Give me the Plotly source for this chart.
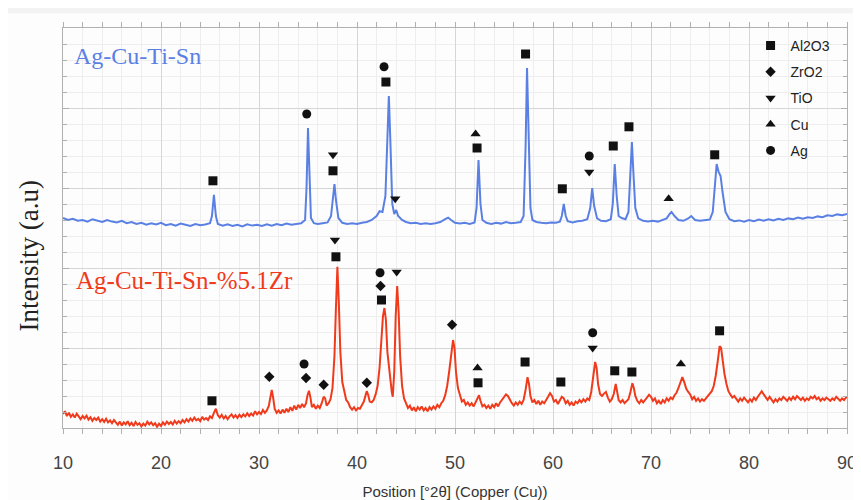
import plotly.graph_objects as go

# ---------------- data (2theta, intensity a.u.) ----------------
blue_pts = [
(10.0,52.5),(10.5,52),(11.0,52.3),(11.5,51.8),(12.0,52),(12.5,51.6),(13.0,52.2),(13.5,51.8),(14.0,51.5),(14.5,52),
(15.0,51.6),(15.5,51.4),(16.0,51.8),(16.5,51.2),(17.0,51.5),(17.5,51),(18.0,51.3),(18.5,50.8),(19.0,51.2),(19.5,50.9),
(20.0,51.3),(20.5,50.7),(21.0,51),(21.5,50.6),(22.0,51.1),(22.5,50.8),(23.0,50.5),(23.5,51),(24.0,50.7),(24.5,50.9),
(25.0,51.2),(25.2,53),(25.4,58.3),(25.6,53),(25.8,51),(26.3,50.6),(26.8,50.9),(27.3,50.5),(27.8,50.8),(28.3,50.4),
(28.8,50.9),(29.3,50.6),(29.8,50.8),(30.3,50.5),(30.8,50.9),(31.3,50.6),(31.8,51),(32.3,50.7),(32.8,51.1),(33.3,50.8),
(33.8,51),(34.3,51.2),(34.7,52),(34.85,60),(35.0,75),(35.15,60),(35.3,52.5),(35.6,51.2),(36.0,51),(36.5,51.2),
(37.0,51.4),(37.35,53),(37.55,58),(37.7,61),(37.85,57),(38.1,52.5),(38.5,51.3),(39.0,51),(39.5,51.2),(40.0,51),
(40.5,51.3),(41.0,51.5),(41.5,52),(42.0,53),(42.3,54.2),(42.6,54),(42.9,58),(43.1,70),(43.25,83),(43.4,72),
(43.6,56),(43.8,53.5),(44.0,54.5),(44.2,53),(44.6,52),(45.0,51.5),(45.5,51.2),(46.0,51.3),(46.5,51),(47.0,51.2),
(47.5,51),(48.0,51.2),(48.5,51.5),(49.0,52.2),(49.3,52.6),(49.6,52),(50.0,51.3),(50.5,51.1),(51.0,51.3),(51.5,51),
(52.0,51.4),(52.2,55),(52.4,67),(52.6,56),(52.8,52),(53.2,51.3),(53.7,51),(54.2,51.3),(54.7,51.1),(55.2,51.5),
(55.7,51.2),(56.2,51.3),(56.7,51.5),(57.0,53),(57.2,70),(57.35,90),(57.5,72),(57.7,55),(57.9,52),(58.3,51.5),
(58.8,51.3),(59.3,51.2),(59.8,51.4),(60.3,51.3),(60.7,51.6),(60.9,53),(61.1,56),(61.3,53),(61.5,51.7),(62.0,51.4),
(62.5,51.7),(63.0,51.8),(63.5,52.2),(63.8,55),(64.0,60),(64.2,55.5),(64.5,52.4),(64.9,51.8),(65.4,51.7),(65.9,52.2),
(66.1,56),(66.3,66),(66.5,58),(66.7,53),(67.0,52.5),(67.4,52.2),(67.7,54),(67.9,63),(68.05,71.5),(68.2,64),
(68.4,55),(68.7,52.4),(69.2,51.8),(69.7,51.6),(70.2,51.8),(70.7,51.6),(71.2,52),(71.6,52.4),(71.9,53.5),(72.1,54),
(72.4,53),(72.8,52),(73.3,51.8),(73.8,52.4),(74.1,53),(74.5,52),(75.0,51.8),(75.5,51.9),(76.0,52.1),(76.3,54),
(76.55,62),(76.7,66),(76.9,64),(77.1,63),(77.3,59),(77.6,54),(78.0,52.2),(78.5,51.7),(79.0,51.9),(79.5,51.6),
(80.0,52),(80.5,51.7),(81.0,52.1),(81.5,51.8),(82.0,52.2),(82.5,51.9),(83.0,52.3),(83.5,52),(84.0,52.4),(84.5,52.2),
(85.0,52.6),(85.5,52.3),(86.0,52.7),(86.5,52.5),(87.0,52.9),(87.5,52.7),(88.0,53.2),(88.5,53),(89.0,53.4),(89.5,53.2),
(90.0,53.5),
]

red_pts = [
(10.0,3.5),(10.2,4.2),(10.4,3),(10.6,3.8),(10.8,2.8),(11.0,3.4),(11.2,2.6),(11.4,3.6),(11.6,2.9),(11.8,2.2),
(12.0,3),(12.2,2.4),(12.4,3.1),(12.6,2.1),(12.8,2.7),(13.0,1.8),(13.2,2.5),(13.4,2),(13.6,2.6),(13.8,1.6),
(14.0,2.2),(14.2,1.5),(14.4,2.3),(14.6,1.4),(14.8,1.9),(15.0,1.2),(15.2,2),(15.4,1.3),(15.6,0.8),(15.8,1.6),
(16.0,0.6),(16.2,1.4),(16.4,0.9),(16.6,1.7),(16.8,0.7),(17.0,1.3),(17.2,0.5),(17.4,1.5),(17.6,0.8),(17.8,1.2),
(18.0,0.4),(18.2,1.1),(18.4,0.6),(18.6,1.6),(18.8,0.9),(19.0,1.4),(19.2,0.7),(19.4,1.2),(19.6,0.3),(19.8,1.1),
(20.0,0.5),(20.2,1.4),(20.4,0.8),(20.6,1.6),(20.8,1),(21.0,1.5),(21.2,0.9),(21.4,1.8),(21.6,1.1),(21.8,1.7),
(22.0,1.2),(22.2,2),(22.4,1.4),(22.6,2.2),(22.8,1.6),(23.0,2.4),(23.2,1.8),(23.4,2.6),(23.6,1.9),(23.8,2.3),
(24.0,1.7),(24.2,2.8),(24.4,2.1),(24.6,2.5),(24.8,2),(25.0,2.9),(25.2,2.5),(25.4,3.8),(25.6,4.8),(25.8,3.2),
(26.0,2.6),(26.2,3.3),(26.4,2.4),(26.6,3),(26.8,2.2),(27.0,2.9),(27.2,3.4),(27.4,2.6),(27.6,3.2),(27.8,2.5),
(28.0,3.3),(28.2,2.7),(28.4,3.4),(28.6,2.9),(28.8,3.7),(29.0,3),(29.2,3.6),(29.4,3.1),(29.6,4.2),(29.8,3.4),
(30.0,4),(30.2,3.5),(30.4,4.5),(30.6,3.8),(30.8,4.4),(31.0,5.5),(31.15,8),(31.3,9.5),(31.45,7.5),(31.6,4.8),
(31.8,3.8),(32.0,4.4),(32.2,3.6),(32.4,4.6),(32.6,3.8),(32.8,4.8),(33.0,4),(33.2,5.2),(33.4,4.3),(33.6,5.6),
(33.8,4.6),(34.0,5.8),(34.2,5),(34.4,6),(34.6,5.2),(34.8,6.2),(34.95,8.2),(35.1,9.3),(35.25,7.6),(35.4,5.2),
(35.6,5.8),(35.8,4.8),(36.0,5.6),(36.2,5),(36.4,6.2),(36.6,7.8),(36.75,7.4),(36.9,5.6),(37.1,6.2),(37.3,7.2),
(37.5,10),(37.7,18),(37.85,30),(38.0,40.3),(38.15,31),(38.3,19),(38.5,11.5),(38.7,8.8),(38.9,7),(39.1,6.4),
(39.3,5.2),(39.5,4.6),(39.7,5.2),(39.9,4.4),(40.1,5),(40.3,4.8),(40.5,5.8),(40.7,6.6),(40.9,8.4),(41.0,9.2),
(41.15,8.2),(41.3,6.6),(41.5,6.4),(41.7,7),(41.9,8.4),(42.1,10.5),(42.3,15),(42.5,22),(42.65,28),(42.8,30),
(42.95,27),(43.1,19),(43.25,15),(43.4,13),(43.55,9),(43.65,7.8),(43.8,14),(43.95,28),(44.1,35.5),(44.25,29),
(44.4,18),(44.6,10.5),(44.8,7.4),(45.0,6.2),(45.2,5),(45.4,5.6),(45.6,4.4),(45.8,5.2),(46.0,4.2),(46.2,5.2),
(46.4,4.6),(46.6,5.4),(46.8,4.4),(47.0,5),(47.2,4.2),(47.4,5.2),(47.6,4.6),(47.8,5.4),(48.0,4.8),(48.2,5.8),
(48.4,5.2),(48.6,6.2),(48.8,6.8),(49.0,8.2),(49.2,10.5),(49.4,14),(49.6,18),(49.8,22),(49.95,20),(50.1,14),
(50.3,10),(50.5,8),(50.7,6.6),(50.9,7),(51.1,5.8),(51.3,6.4),(51.5,5.6),(51.7,6.2),(51.9,5.4),(52.1,6.4),
(52.3,7.6),(52.45,8.2),(52.6,6.8),(52.8,5.4),(53.0,5.8),(53.2,5),(53.4,5.6),(53.6,4.8),(53.8,5.8),(54.0,5.2),
(54.2,6.2),(54.4,5.4),(54.6,6.4),(54.8,7),(55.0,7.6),(55.2,8.4),(55.4,8),(55.6,7),(55.8,6.2),(56.0,5.6),
(56.2,6.4),(56.4,5.8),(56.6,6.6),(56.8,6),(57.0,7),(57.2,9.5),(57.4,12.7),(57.55,11),(57.7,8),(57.9,6.4),
(58.1,7),(58.3,6),(58.5,6.8),(58.7,5.8),(58.9,6.6),(59.1,6.2),(59.3,7.2),(59.5,7.8),(59.7,8.7),(59.9,8),
(60.1,6.6),(60.3,7),(60.5,6),(60.7,6.8),(60.9,7.8),(61.1,7.4),(61.3,6.2),(61.5,6.8),(61.7,5.8),(61.9,6.4),
(62.1,5.6),(62.3,6.6),(62.5,6.2),(62.7,7),(62.9,6.4),(63.1,7.2),(63.3,6.6),(63.5,7.4),(63.7,7),(63.9,9),
(64.1,13),(64.3,16.5),(64.45,15),(64.6,11),(64.8,8.5),(65.0,8),(65.2,8.6),(65.4,9),(65.6,7.6),(65.8,6.6),
(66.0,7.2),(66.2,8.5),(66.4,11),(66.55,9),(66.7,7),(66.9,6.4),(67.1,7),(67.3,6.2),(67.5,6.8),(67.7,7.2),
(67.9,9),(68.1,11.2),(68.25,10),(68.4,8),(68.6,6.8),(68.8,6.2),(69.0,7),(69.2,6.4),(69.4,7),(69.6,7.6),
(69.8,8.3),(70.0,7.8),(70.2,6.8),(70.4,7.4),(70.6,6.2),(70.8,6.8),(71.0,6),(71.2,7),(71.4,6.4),(71.6,7.4),
(71.8,6.8),(72.0,7.6),(72.2,7.2),(72.4,8.2),(72.6,8.8),(72.8,10),(73.0,11.5),(73.2,12.7),(73.4,11.4),(73.6,9.8),
(73.8,9),(74.0,8.4),(74.2,7.2),(74.4,7.8),(74.6,6.8),(74.8,7.4),(75.0,6.6),(75.2,7.2),(75.4,6.8),(75.6,7.4),
(75.8,7.8),(76.0,8.4),(76.2,9.2),(76.4,10.5),(76.6,13),(76.8,16.5),(77.0,20.5),(77.15,20),(77.3,17),(77.5,13.5),
(77.7,11),(77.9,9.2),(78.1,8.4),(78.3,7.6),(78.5,8),(78.7,7.2),(78.9,6.6),(79.1,7.4),(79.3,6.8),(79.5,7.6),
(79.7,7),(79.9,6.4),(80.1,7.2),(80.3,6.6),(80.5,7.6),(80.7,7),(80.9,7.8),(81.1,8.6),(81.3,9.2),(81.5,8.4),
(81.7,7.6),(81.9,7),(82.1,7.8),(82.3,7),(82.5,6.4),(82.7,7.2),(82.9,6.6),(83.1,7.4),(83.3,7),(83.5,7.8),
(83.7,7.2),(83.9,6.8),(84.1,7.6),(84.3,7),(84.5,7.8),(84.7,7.2),(84.9,8),(85.1,7.4),(85.3,7),(85.5,7.6),
(85.7,6.8),(85.9,7.4),(86.1,7),(86.3,7.8),(86.5,7.4),(86.7,8),(86.9,7.2),(87.1,7.6),(87.3,6.8),(87.5,7.4),
(87.7,7),(87.9,7.6),(88.1,7.2),(88.3,6.8),(88.5,7.4),(88.7,7),(88.9,7.8),(89.1,7.2),(89.3,6.8),(89.5,7.4),
(89.7,7),(89.9,7.6),(90.0,7.8),
]

# phase identification markers (2theta, intensity) on both patterns
al2o3_x = [25.3, 37.55, 42.95, 52.25, 57.2, 60.95, 66.15, 67.75, 76.5, 25.2, 37.85, 42.5, 52.35, 57.15, 60.8, 66.3, 68.05, 77.0]
al2o3_y = [61.8, 64.3, 86.5, 70.0, 93.5, 59.8, 70.5, 75.3, 68.3, 6.8, 42.8, 32.0, 11.3, 16.5, 11.5, 14.3, 14.0, 24.3]
zro2_x = [31.05, 34.8, 36.6, 41.0, 42.4, 49.7]
zro2_y = [12.8, 12.5, 10.8, 11.3, 35.5, 25.8]
tio_x = [37.55, 43.9, 63.7, 37.75, 44.05, 64.05]
tio_y = [68.3, 57.3, 64.0, 47.0, 39.0, 20.0]
cu_x = [52.1, 71.8, 52.3, 73.05]
cu_y = [73.5, 57.3, 15.0, 16.0]
ag_x = [34.87, 42.76, 63.7, 34.6, 42.35, 64.05]
ag_y = [78.5, 90.3, 68.0, 16.0, 38.8, 23.8]

series_names = ["Ag-Cu-Ti-Sn", "Ag-Cu-Ti-Sn-%5.1Zr"]
x_title = "Position [°2θ] (Copper (Cu))"
y_title = "Intensity (a.u)"

BLUE = "#5a80e4"
RED = "#f03a1c"
INK = "#111111"

fig = go.Figure()

bx, by = zip(*blue_pts)
rx, ry = zip(*red_pts)
fig.add_trace(go.Scatter(x=bx, y=by, mode="lines", line=dict(color=BLUE, width=2), showlegend=False, hoverinfo="skip"))
fig.add_trace(go.Scatter(x=rx, y=ry, mode="lines", line=dict(color=RED, width=2), showlegend=False, hoverinfo="skip"))

phases = [
    ("Al2O3", al2o3_x, al2o3_y, "square", 9),
    ("ZrO2", zro2_x, zro2_y, "diamond", 8),
    ("TiO", tio_x, tio_y, "triangle-down", 9),
    ("Cu", cu_x, cu_y, "triangle-up", 9),
    ("Ag", ag_x, ag_y, "circle", 9),
]
for name, xs, ys, sym, sz in phases:
    fig.add_trace(go.Scatter(x=xs, y=ys, mode="markers", name=name, legendgroup=name,
                             marker=dict(symbol=sym, size=sz, color=INK, line=dict(width=0))))

fig.add_annotation(x=0.012, y=0.93, xref="paper", yref="paper", text=series_names[0], showarrow=False,
                   xanchor="left", yanchor="middle", font=dict(family="Liberation Serif", size=24, color=BLUE))
fig.add_annotation(x=0.014, y=0.37, xref="paper", yref="paper", text=series_names[1], showarrow=False,
                   xanchor="left", yanchor="middle", font=dict(family="Liberation Serif", size=25, color=RED))
fig.add_annotation(x=-0.044, y=0.43, xref="paper", yref="paper", text=y_title, showarrow=False, textangle=-90,
                   xanchor="center", yanchor="middle", font=dict(family="Liberation Serif", size=27, color="#222"))

fig.add_shape(type="rect", xref="paper", yref="paper", x0=-0.073, x1=1.03, y0=-0.19, y1=1.037,
              fillcolor="#fdfdfd", line=dict(width=0), layer="below")

fig.update_layout(
    width=861, height=500,
    margin=dict(l=55, r=22, t=20, b=80, autoexpand=False),
    paper_bgcolor="#f3f3f3", plot_bgcolor="#ffffff",
    font=dict(family="Liberation Sans", color="#333"),
    legend=dict(x=0.877, y=0.995, xanchor="left", yanchor="top", bgcolor="rgba(0,0,0,0)",
                font=dict(family="Liberation Sans", size=14, color="#222"), tracegroupgap=5,
                itemwidth=30),
)
fig.update_xaxes(range=[10, 90], dtick=10, tick0=10, showgrid=True, gridcolor="#d6d6d6", gridwidth=1,
                 showline=True, linecolor="#b0b0b0", linewidth=1, mirror="ticks", automargin=False,
                 ticks="outside", ticklen=5, tickcolor="#b0b0b0",
                 tickfont=dict(family="Liberation Sans", size=18, color="#444"), ticklabelstandoff=13,
                 minor=dict(dtick=2, showgrid=True, gridcolor="#eeeeee", ticks="outside", ticklen=5, tickcolor="#b0b0b0"),
                 title=dict(text=x_title, font=dict(family="Liberation Sans", size=15, color="#333"), standoff=14),
                 zeroline=False)
fig.update_yaxes(range=[0, 100], dtick=20, tick0=0, showgrid=True, gridcolor="#d6d6d6", gridwidth=1,
                 showline=True, linecolor="#b0b0b0", linewidth=1, mirror="ticks", automargin=False,
                 ticks="inside", ticklen=6, tickcolor="#b0b0b0", showticklabels=False,
                 minor=dict(dtick=4, showgrid=True, gridcolor="#eeeeee", ticks="inside", ticklen=4, tickcolor="#b0b0b0"),
                 zeroline=False)

fig.write_html("out.html")
